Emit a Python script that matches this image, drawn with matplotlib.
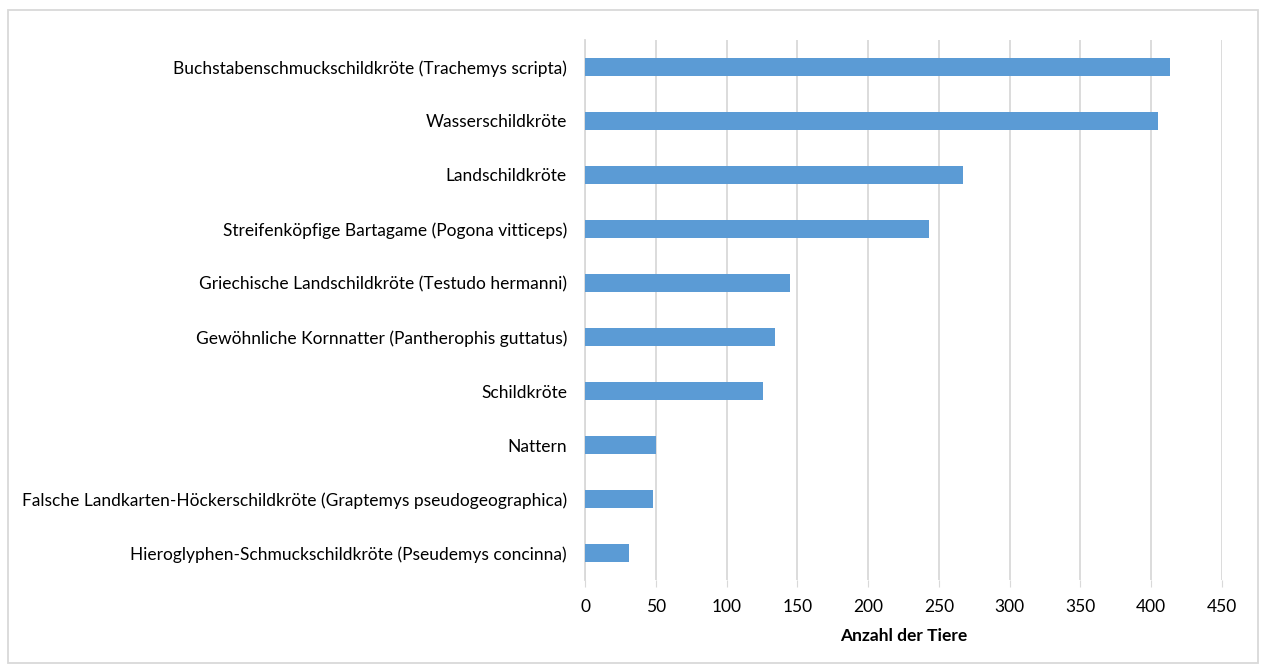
import matplotlib.pyplot as plt
from matplotlib.patches import Rectangle

# Daten (von oben nach unten)
arten = [
    "Buchstabenschmuckschildkröte (Trachemys scripta)",
    "Wasserschildkröte",
    "Landschildkröte",
    "Streifenköpfige Bartagame (Pogona vitticeps)",
    "Griechische Landschildkröte (Testudo hermanni)",
    "Gewöhnliche Kornnatter (Pantherophis guttatus)",
    "Schildkröte",
    "Nattern",
    "Falsche Landkarten-Höckerschildkröte (Graptemys pseudogeographica)",
    "Hieroglyphen-Schmuckschildkröte (Pseudemys concinna)",
]
anzahl = [413, 405, 267, 243, 145, 134, 126, 50, 48, 31]
x_ticks = [0, 50, 100, 150, 200, 250, 300, 350, 400, 450]

plt.rcParams['font.family'] = ['Lato', 'DejaVu Sans']

fig = plt.figure(figsize=(12.66, 6.71), dpi=100)
ax = fig.add_axes([0.4621, 0.1356, 0.5031, 0.8048])

pos = list(range(len(arten)))[::-1]
ax.barh(pos, anzahl, height=0.35, color='#5B9BD5', zorder=3)

ax.set_xlim(0, 450)
ax.set_ylim(-0.5, len(arten) - 0.5)
ax.set_xticks(x_ticks)
ax.set_yticks(pos)
ax.set_yticklabels(arten)
ax.grid(axis='x', color='#D9D9D9', linewidth=1.3, zorder=0)
for s in ['top', 'right', 'bottom']:
    ax.spines[s].set_visible(False)
ax.spines['left'].set_color('#D9D9D9')
ax.spines['left'].set_linewidth(1.3)
ax.tick_params(axis='y', length=0, pad=13, labelsize=12.5, labelcolor='#000000')
ax.tick_params(axis='x', length=5, color='#D9D9D9', pad=9, labelsize=12.5)
ax.set_xlabel('Anzahl der Tiere', fontsize=12.5, fontweight='bold', labelpad=9)

# Rahmen um das Diagramm
fig.patches.append(Rectangle((8 / 1266, 8 / 671), 1250 / 1266, 653 / 671,
                             transform=fig.transFigure, fill=False,
                             edgecolor='#D9D9D9', linewidth=1.3))

fig.savefig('out.png', dpi=100)
